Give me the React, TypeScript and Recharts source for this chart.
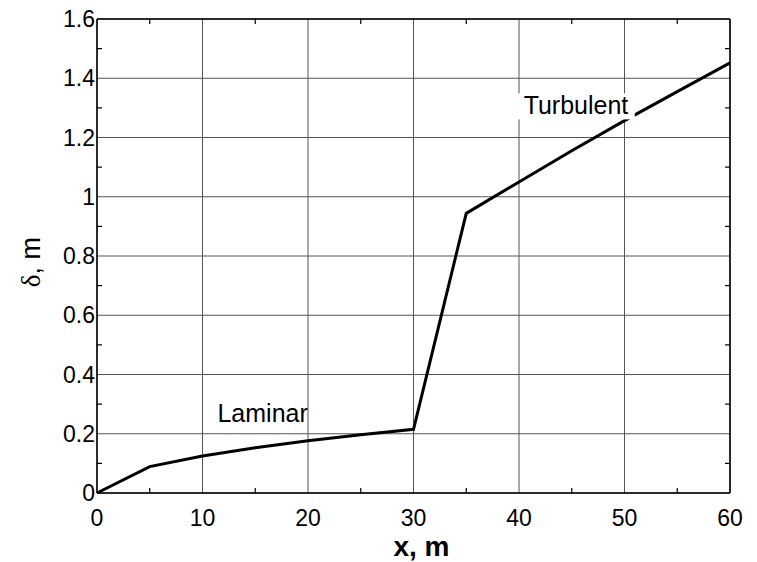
import { CartesianGrid, Line, LineChart, ReferenceDot, XAxis, YAxis } from "recharts";

const xValues = [0, 5, 10, 15, 20, 25, 30, 35, 40, 45, 50, 55, 60];
const deltaValues = [0, 0.089, 0.125, 0.153, 0.176, 0.197, 0.215, 0.944, 1.05, 1.155, 1.257, 1.355, 1.452];

const xTicks = [0, 10, 20, 30, 40, 50, 60];
const yTicks = [0, 0.2, 0.4, 0.6, 0.8, 1, 1.2, 1.4, 1.6];
const xMinorTicks = [5, 15, 25, 35, 45, 55];
const yMinorTicks = [0.1, 0.3, 0.5, 0.7, 0.9, 1.1, 1.3, 1.5];

const annotationText = ["Laminar", "Turbulent"];
const annotationX = [15.7, 45.4];
const annotationY = [0.268, 1.305];
const annotationBox = [false, true];

const FONT = "'Liberation Sans', Arial, sans-serif";
const GRID = "#555";
const MINOR = 5;

const data = xValues.map((x, i) => ({ x, delta: deltaValues[i] }));
const xAllTicks = [...xTicks, ...xMinorTicks].sort((a, b) => a - b);
const yAllTicks = [...yTicks, ...yMinorTicks].sort((a, b) => a - b);

function BottomTick({ x, y, payload }: any) {
  const major = xTicks.includes(payload.value);
  if (!major) return <line x1={x} x2={x} y1={y} y2={y - MINOR} stroke="#000" strokeWidth={1.2} />;
  return (
    <text x={x} y={y + 33} textAnchor="middle" fontSize={23} fontFamily={FONT} fill="#000">
      {payload.value}
    </text>
  );
}

function LeftTick({ x, y, payload }: any) {
  const major = yTicks.includes(payload.value);
  if (!major) return <line x1={x} x2={x + MINOR} y1={y} y2={y} stroke="#000" strokeWidth={1.2} />;
  return (
    <text x={x - 2} y={y + 8} textAnchor="end" fontSize={23} fontFamily={FONT} fill="#000">
      {payload.value}
    </text>
  );
}

function TopTick({ x, y }: any) {
  return <line x1={x} x2={x} y1={y} y2={y + MINOR} stroke="#000" strokeWidth={1.2} />;
}

function RightTick({ x, y }: any) {
  return <line x1={x} x2={x - MINOR} y1={y} y2={y} stroke="#000" strokeWidth={1.2} />;
}

function AnnotationShape({ cx, cy, text, box }: { cx?: number; cy?: number; text: string; box: boolean }) {
  if (cx == null || cy == null) return null;
  const w = text.length * 12.4;
  return (
    <g>
      {box && <rect x={cx - w / 2 - 3} y={cy - 13} width={w + 6} height={26} fill="#fff" />}
      <text x={cx} y={cy + 8} textAnchor="middle" fontSize={25} fontFamily={FONT} fill="#000">
        {text}
      </text>
    </g>
  );
}

export default function App() {
  return (
    <div style={{ position: "absolute", left: 0, top: 0, background: "#fff" }}>
      <LineChart width={757} height={562} data={data} margin={{ top: 18, right: 26, bottom: 0, left: 0 }}>
        <CartesianGrid stroke={GRID} strokeWidth={1} horizontalValues={yTicks} verticalValues={xTicks} />
        <XAxis
          dataKey="x"
          type="number"
          domain={[0, 60]}
          ticks={xAllTicks}
          interval={0}
          height={69}
          tickLine={false}
          tickSize={0}
          tickMargin={0}
          axisLine={{ stroke: "#000", strokeWidth: 1.5 }}
          tick={<BottomTick />}
          label={{
            content: ({ viewBox }: any) => (
              <text
                x={viewBox.x + viewBox.width / 2 + 8}
                y={viewBox.y + viewBox.height - 6}
                textAnchor="middle"
                fontSize={28}
                fontWeight="bold"
                fontFamily={FONT}
                fill="#000"
              >
                x, m
              </text>
            ),
          }}
        />
        <XAxis
          xAxisId="top"
          orientation="top"
          dataKey="x"
          height={1}
          type="number"
          domain={[0, 60]}
          ticks={xMinorTicks}
          interval={0}
          tickLine={false}
          tickSize={0}
          tickMargin={0}
          tick={<TopTick />}
          axisLine={{ stroke: "#000", strokeWidth: 1.5 }}
        />
        <YAxis
          type="number"
          domain={[0, 1.6]}
          ticks={yAllTicks}
          interval={0}
          width={97}
          tickLine={false}
          tickSize={0}
          tickMargin={0}
          axisLine={{ stroke: "#000", strokeWidth: 1.5 }}
          tick={<LeftTick />}
          label={{
            content: ({ viewBox }: any) => {
              const cx = 40;
              const cy = viewBox.y + viewBox.height / 2 + 6;
              return (
                <text
                  x={cx}
                  y={cy}
                  transform={`rotate(-90, ${cx}, ${cy})`}
                  textAnchor="middle"
                  fontSize={27}
                  fontFamily={FONT}
                  fill="#000"
                >
                  <tspan fontFamily="'Liberation Serif', serif">δ</tspan>, m
                </text>
              );
            },
          }}
        />
        <YAxis
          yAxisId="right"
          orientation="right"
          width={1}
          type="number"
          domain={[0, 1.6]}
          ticks={yMinorTicks}
          interval={0}
          tickLine={false}
          tickSize={0}
          tickMargin={0}
          tick={<RightTick />}
          axisLine={{ stroke: "#000", strokeWidth: 1.5 }}
        />
        <Line
          xAxisId="top"
          yAxisId="right"
          type="linear"
          dataKey="delta"
          stroke="none"
          dot={false}
          activeDot={false}
          legendType="none"
          isAnimationActive={false}
        />
        <Line
          type="linear"
          dataKey="delta"
          stroke="#000"
          strokeWidth={3}
          dot={false}
          activeDot={false}
          isAnimationActive={false}
        />
        {annotationText.map((t, i) => (
          <ReferenceDot
            key={t}
            x={annotationX[i]}
            y={annotationY[i]}
            r={0}
            ifOverflow="visible"
            shape={(p: any) => <AnnotationShape cx={p.cx} cy={p.cy} text={t} box={annotationBox[i]} />}
          />
        ))}
      </LineChart>
    </div>
  );
}
